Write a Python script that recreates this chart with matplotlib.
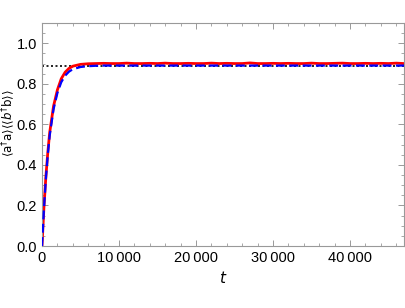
import matplotlib
matplotlib.use("Agg")
import matplotlib.pyplot as plt
from matplotlib.ticker import MultipleLocator, FuncFormatter

plt.rcParams['font.family'] = ['Liberation Sans', 'DejaVu Sans']
plt.rcParams['mathtext.fontset'] = 'dejavusans'

# values
t_rise = [0, 250, 500, 750, 1000, 1500, 2000, 2500, 3000, 3500, 4000, 5000, 6000]
red_rise = [0.0, 0.19, 0.34, 0.46, 0.56, 0.69, 0.77, 0.825, 0.857, 0.876, 0.887, 0.896, 0.899]
blue_rise = [0.0, 0.18, 0.33, 0.45, 0.545, 0.675, 0.755, 0.808, 0.84, 0.86, 0.872, 0.883, 0.887]

t_flat = [7000, 8000, 9000, 10000, 11000, 12000, 13000, 14000, 15000, 16000,
          17000, 18000, 19000, 20000, 21000, 22000, 23000, 24000, 25000, 26000,
          27000, 28000, 29000, 30000, 31000, 32000, 33000, 34000, 35000, 36000,
          37000, 38000, 39000, 40000, 41000, 42000, 43000, 44000, 45000, 46000, 47000]
red_flat = [0.900, 0.901, 0.900, 0.900, 0.902, 0.900, 0.900, 0.901, 0.900, 0.902,
            0.900, 0.900, 0.901, 0.900, 0.900, 0.902, 0.900, 0.901, 0.900, 0.900,
            0.903, 0.900, 0.900, 0.901, 0.900, 0.901, 0.900, 0.900, 0.902, 0.900,
            0.900, 0.901, 0.902, 0.900, 0.900, 0.901, 0.900, 0.901, 0.900, 0.902, 0.900]
blue_flat = [0.889, 0.890, 0.890, 0.890, 0.890, 0.890, 0.890, 0.890, 0.890, 0.890,
             0.890, 0.890, 0.890, 0.890, 0.890, 0.890, 0.890, 0.890, 0.890, 0.890,
             0.890, 0.890, 0.890, 0.890, 0.890, 0.890, 0.890, 0.890, 0.890, 0.890,
             0.890, 0.890, 0.890, 0.890, 0.890, 0.890, 0.890, 0.890, 0.890, 0.890, 0.890]
steady = 0.89

t = t_rise + t_flat
red = red_rise + red_flat
blue = blue_rise + blue_flat

fig = plt.figure(figsize=(4.05, 3.08), dpi=100)
ax = fig.add_axes([42 / 405, 62 / 308, 362 / 405, 223 / 308])

ax.axhline(steady, color='black', ls=(0, (1.2, 1.5)), lw=1.2, zorder=1)
ax.plot(t, red, color='red', lw=2.0, zorder=2)
ax.plot(t, blue, color='blue', lw=1.6, ls=(0, (4, 2)), zorder=3)

ax.set_xlim(0, 47000)
ax.set_ylim(0, 1.1)
ax.xaxis.set_major_locator(MultipleLocator(10000))
ax.xaxis.set_minor_locator(MultipleLocator(2000))
ax.yaxis.set_major_locator(MultipleLocator(0.2))
ax.yaxis.set_minor_locator(MultipleLocator(0.05))
ax.xaxis.set_major_formatter(FuncFormatter(
    lambda v, p: f"{int(v):,}".replace(",", "\u2009") if v else "0"))
ax.yaxis.set_major_formatter(FuncFormatter(lambda v, p: f"{v:.1f}"))

for s in ax.spines.values():
    s.set_color('#999999')
    s.set_linewidth(0.8)
ax.tick_params(which='both', direction='in', top=True, right=True,
               color='#999999', labelsize=10.5)
ax.tick_params(which='major', length=4, width=0.7)
ax.tick_params(which='minor', length=2, width=0.6)

ax.set_xlabel("$t$", fontsize=11)
ax.set_ylabel(r"$\langle \mathrm{a}^{\dagger}\mathrm{a}\rangle\langle\langle b^{\dagger}\mathrm{b}\rangle\rangle$",
              fontsize=8.5)
ax.yaxis.set_label_coords(-0.068, 0.55)

fig.savefig("out.png", dpi=100)
